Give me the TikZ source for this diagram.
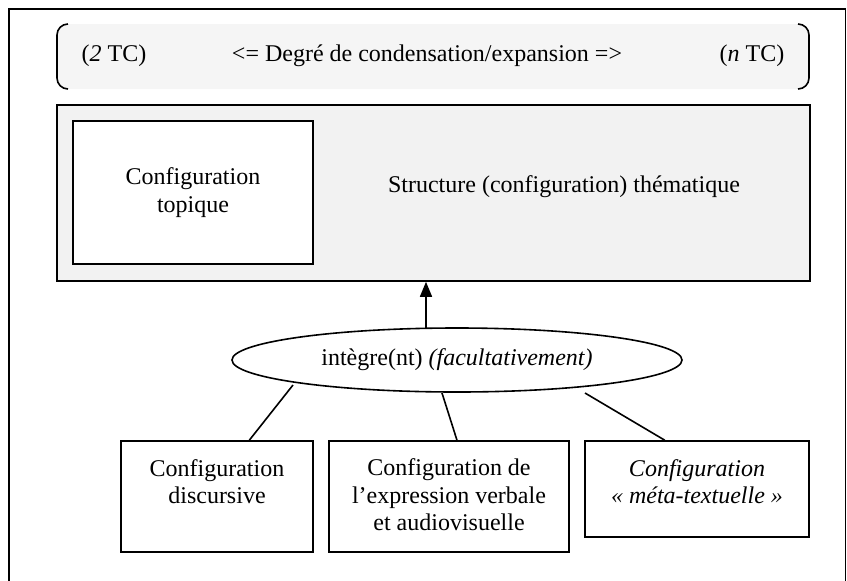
\documentclass[tikz,border=0pt]{standalone}
\usepackage{fontspec}
\setmainfont{Liberation Serif}
\usetikzlibrary{shapes.geometric,arrows.meta,calc}
\definecolor{bkfill}{HTML}{F5F5F5}
\definecolor{mainfill}{HTML}{F2F2F2}
\begin{document}
\begin{tikzpicture}[x=0.5pt,y=-0.5pt,
  every node/.style={font=\fontsize{12}{13.8}\selectfont, inner sep=0pt},
  box/.style={draw, line width=0.8pt, rectangle, inner sep=0pt},
  txt/.style={align=center},
  conn/.style={line width=0.8pt}]
\useasboundingbox (0,0) rectangle (847,580);
% outer frame
\draw[line width=0.8pt] (9,9) rectangle (845.5,595);
% bracket band
\fill[bkfill, rounded corners=5pt] (57,24) rectangle (809,89);
\draw[line width=0.8pt] (68,24) to[out=180,in=90] (57,35) -- (57,78) to[out=-90,in=180] (68,89);
\draw[line width=0.8pt] (798,24) to[out=0,in=90] (809,35) -- (809,78) to[out=-90,in=0] (798,89);
\node[txt] (tc2) at (114,56) {(\textit{2} TC)};
\node[txt] (deg) at (427,56) {<= Degré de condensation/expansion =>};
\node[txt] (tcn) at (752,56) {(\textit{n} TC)};
% main box
\node[box, fill=mainfill, minimum width=376.5pt, minimum height=88pt] (main) at (433.5,193) {};
\node[box, fill=white, minimum width=120pt, minimum height=71.5pt, txt] (topo) at (193,192.5) {Configuration\\topique};
\node[txt] (struct) at (564,187) {Structure (configuration) thématique};
% ellipse
\node[draw, ellipse, line width=0.8pt, fill=white, minimum width=225pt, minimum height=32pt] (ell) at (457,360) {intègre(nt) \textit{(facultativement)}};
\coordinate (ea) at (426,328.5);
\draw[conn, -{Triangle[width=6pt,length=7.5pt]}] (ea) -- (ea |- main.south);
% bottom boxes
\node[box, minimum width=96pt, minimum height=55.5pt] (b1) at (217,496.5) {};
\node[box, minimum width=120pt, minimum height=55.5pt] (b2) at (449,496.5) {};
\node[box, minimum width=112pt, minimum height=48pt] (b3) at (697,489) {};
\node[txt] (t1) at (217,481.5) {Configuration\\discursive};
\node[txt] (t2) at (449,495) {Configuration de\\l’expression verbale\\et audiovisuelle};
\node[txt, font=\fontsize{12}{13.8}\selectfont\itshape] (t3) at (697,481.5) {Configuration\\« méta-textuelle »};
% connectors
\coordinate (e1) at (293,385);
\coordinate (e2) at (442,393);
\coordinate (e3) at (585,393);
\draw[conn] (e1) -- ($(b1.north west)!0.667!(b1.north east)$);
\draw[conn] (e2) -- ($(b2.north west)!0.533!(b2.north east)$);
\draw[conn] (e3) -- ($(b3.north west)!0.357!(b3.north east)$);
\end{tikzpicture}
\end{document}
